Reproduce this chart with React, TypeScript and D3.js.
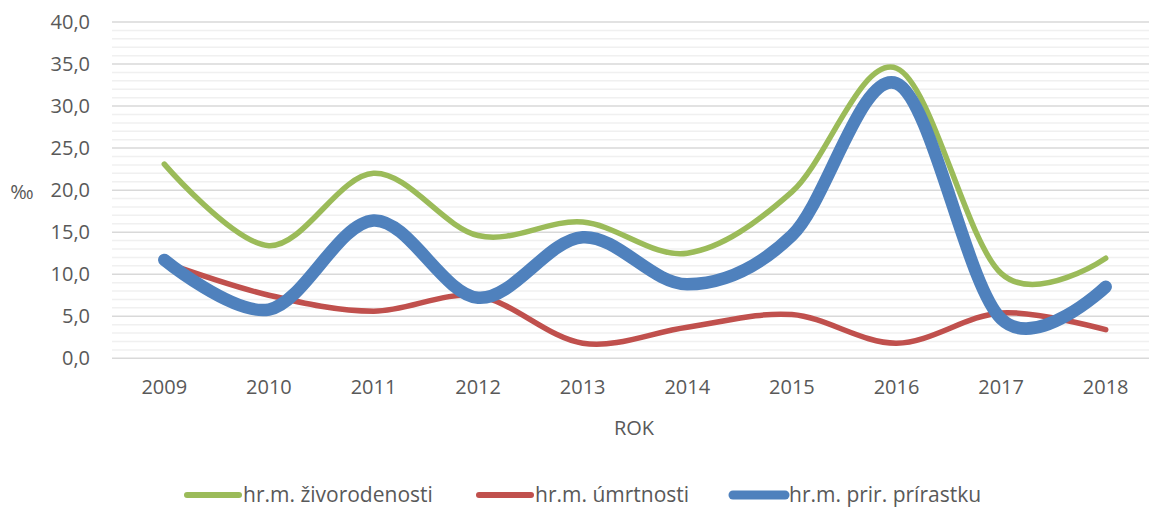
import React from "react";
import * as d3 from "d3";

const years = ["2009", "2010", "2011", "2012", "2013", "2014", "2015", "2016", "2017", "2018"];
const zivorodenost = [23.1, 13.4, 22.0, 14.6, 16.2, 12.5, 19.8, 34.5, 10.1, 11.9];
const umrtnost = [11.4, 7.5, 5.6, 7.4, 1.8, 3.7, 5.2, 1.8, 5.4, 3.4];
const prirastok = [11.7, 5.8, 16.4, 7.2, 14.4, 8.8, 14.6, 32.7, 4.7, 8.5];
const yTicks = [0, 5, 10, 15, 20, 25, 30, 35, 40];
const seriesNames = ["hr.m. živorodenosti", "hr.m. úmrtnosti", "hr.m. prir. prírastku"];

const W = 1149;
const H = 509;
const FONT = "'Open Sans', sans-serif";
const TEXT = "#595959";

export default function App() {
  const x = d3.scaleBand<string>().domain(years).range([112, 1158]).padding(0);
  const y = d3.scaleLinear().domain([0, 40]).range([358.3, 22]);
  const cx = (d: string) => (x(d) as number) + x.bandwidth() / 2;

  const series = [
    { name: seriesNames[0], values: zivorodenost, color: "#9BBB59", width: 5.5 },
    { name: seriesNames[1], values: umrtnost, color: "#C0504D", width: 5.5 },
    { name: seriesNames[2], values: prirastok, color: "#4F81BD", width: 12.5 },
  ];

  const line = d3
    .line<number>()
    .x((_, i) => cx(years[i]))
    .y((v) => y(v))
    .curve(d3.curveCardinal.tension(0));

  const minor = d3.range(0, 41, 1).filter((v) => v % 5 !== 0);
  const fmt = (v: number) => v.toFixed(1).replace(".", ",");

  const legendItems = [
    { x: 184, textX: 243 },
    { x: 476, textX: 535 },
    { x: 730, textX: 789 },
  ];

  return (
    <svg width={W} height={H} style={{ position: "absolute", left: 0, top: 0, background: "#fff" }}>
      <rect x={0} y={0} width={W} height={H} fill="#fff" />
      {minor.map((v) => (
        <line key={"m" + v} x1={112} x2={1158} y1={y(v)} y2={y(v)} stroke="#f0f0f0" strokeWidth={1.5} />
      ))}
      {yTicks.map((v) => (
        <line key={"g" + v} x1={112} x2={1158} y1={y(v)} y2={y(v)} stroke="#d9d9d9" strokeWidth={1.5} />
      ))}
      {yTicks.map((v) => (
        <text key={"t" + v} x={90} y={y(v)} dy="0.35em" textAnchor="end" fontFamily={FONT} fontSize={20} fill={TEXT}>
          {fmt(v)}
        </text>
      ))}
      <text x={22} y={192} dy="0.35em" textAnchor="middle" fontFamily={FONT} fontSize={20} fill={TEXT}>
        ‰
      </text>
      {years.map((yr) => (
        <text key={yr} x={cx(yr)} y={387} dy="0.35em" textAnchor="middle" fontFamily={FONT} fontSize={20} fill={TEXT}>
          {yr}
        </text>
      ))}
      <text x={634} y={428} dy="0.35em" textAnchor="middle" fontFamily={FONT} fontSize={20} fill={TEXT}>
        ROK
      </text>
      {series.map((s) => (
        <path
          key={s.name}
          d={line(s.values) || ""}
          fill="none"
          stroke={s.color}
          strokeWidth={s.width}
          strokeLinecap="round"
          strokeLinejoin="round"
        />
      ))}
      {series.map((s, i) => (
        <g key={"l" + i}>
          <line
            x1={legendItems[i].x + 3}
            x2={legendItems[i].textX - 4}
            y1={495}
            y2={495}
            stroke={s.color}
            strokeWidth={s.width > 8 ? 9 : 6}
            strokeLinecap="round"
          />
          <text x={legendItems[i].textX} y={495} dy="0.35em" fontFamily={FONT} fontSize={21} fill={TEXT}>
            {s.name}
          </text>
        </g>
      ))}
    </svg>
  );
}
